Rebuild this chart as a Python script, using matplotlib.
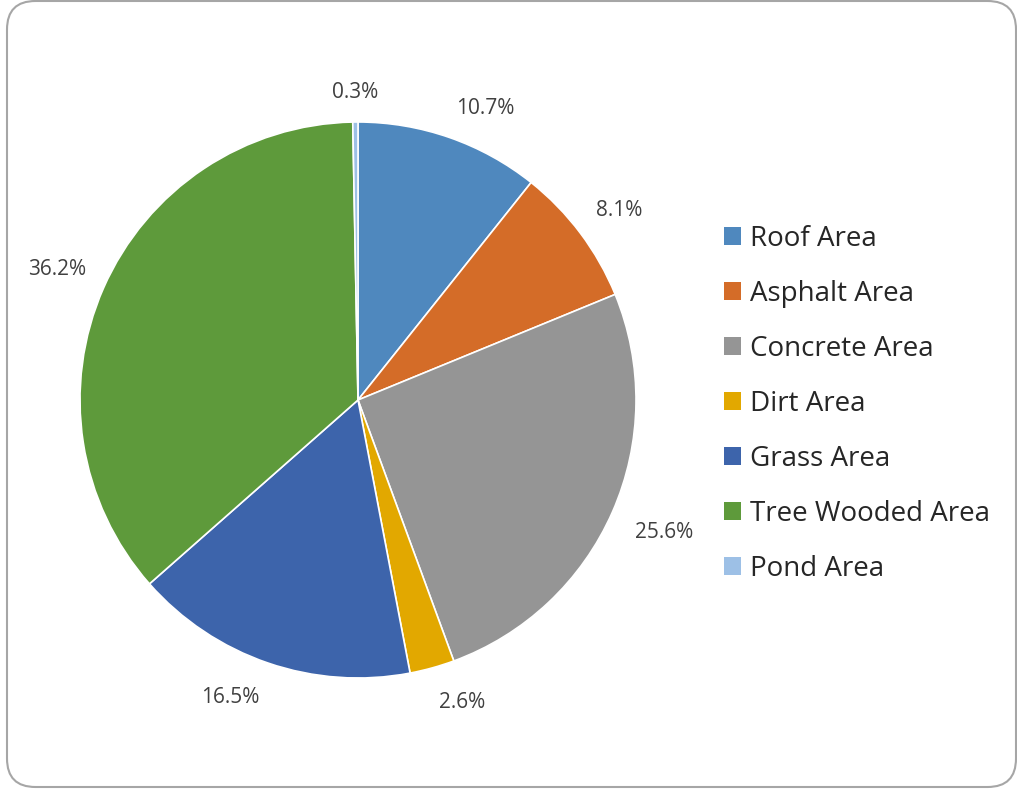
import numpy as np
import matplotlib.pyplot as plt
from matplotlib.patches import FancyBboxPatch, Patch

# Land cover shares (percent)
labels = ["Roof Area", "Asphalt Area", "Concrete Area", "Dirt Area",
          "Grass Area", "Tree Wooded Area", "Pond Area"]
shares = [10.7, 8.1, 25.6, 2.6, 16.5, 36.2, 0.3]
colors = ["#4F88BE", "#D46C28", "#959595", "#E2A800",
          "#3D64AB", "#5E9A3B", "#9DC0E6"]

plt.rcParams['font.family'] = ['Open Sans', 'DejaVu Sans']

W, H = 1017, 793
fig = plt.figure(figsize=(W / 100, H / 100), dpi=100)

# rounded frame around the chart
frame = FancyBboxPatch((7 / W, 6 / H), (W - 8) / W, (H - 7) / H,
                       boxstyle="round,pad=0,rounding_size=0.028",
                       transform=fig.transFigure, facecolor="none",
                       edgecolor="#A6A6A6", linewidth=1.5, mutation_aspect=W / H)
fig.patches.append(frame)

# pie axes: centre (358, 400), radius 278 px
cx, cy, r = 358, 400, 278
ax = fig.add_axes([(cx - r) / W, (H - cy - r) / H, 2 * r / W, 2 * r / H])
wedges, _ = ax.pie(shares, colors=colors, startangle=90, counterclock=False,
                   radius=1, wedgeprops=dict(edgecolor="white", linewidth=1.2))
ax.set_xlim(-1, 1)
ax.set_ylim(-1, 1)
ax.set_aspect("equal")
ax.axis("off")

# percentage labels outside the slices
for w, v in zip(wedges, shares):
    ang = np.deg2rad((w.theta1 + w.theta2) / 2)
    c, s = np.cos(ang), np.sin(ang)
    d = 1.07 if s > 0 else 1.09
    ha = "center" if abs(c) < 0.15 else ("left" if c > 0 else "right")
    va = "bottom" if s > 0 else "top"
    ax.text(d * c, d * s, f"{v:.1f}%", ha=ha, va=va, fontsize=15,
            color="#404040", clip_on=False)

handles = [Patch(facecolor=col, edgecolor="none") for col in colors]
fig.legend(handles, labels, loc="upper left", bbox_to_anchor=(699 / W, 1 - 200 / H),
           frameon=False, fontsize=20, labelspacing=0.97, handlelength=0.61,
           handleheight=0.61, handletextpad=0.32, labelcolor="#262626")

fig.savefig("out.png", dpi=100)
